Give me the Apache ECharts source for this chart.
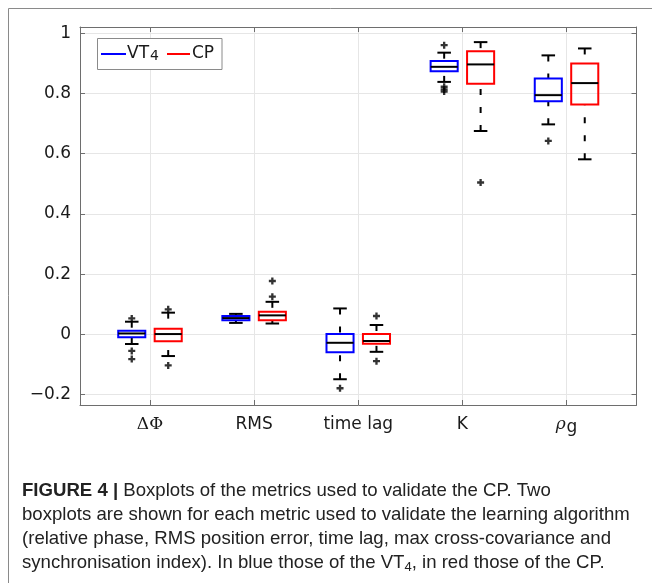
<!DOCTYPE html>
<html><head><meta charset="utf-8">
<script src="https://cdn.jsdelivr.net/npm/echarts@6/dist/echarts.min.js"></script>
<style>html,body{margin:0;padding:0;background:#fff}#c{width:652px;height:583px}</style>
</head><body><div id="c"></div>
<script>
// ---- data ----
const categories = ['ΔΦ', 'RMS', 'time lag', 'K', 'ρg'];
const yTicks = [-0.2, 0, 0.2, 0.4, 0.6, 0.8, 1];
const xTicks = [0, 1, 2, 3, 4];
// each row: [lower whisker, Q1, median, Q3, upper whisker]
const vtBoxes = [
  [-0.032, -0.010, 0.003, 0.012, 0.042],
  [0.038, 0.047, 0.054, 0.061, 0.068],
  [-0.149, -0.059, -0.028, 0.001, 0.086],
  [0.838, 0.873, 0.888, 0.907, 0.935],
  [0.697, 0.774, 0.794, 0.849, 0.926]
];
const cpBoxes = [
  [-0.072, -0.023, 0.001, 0.019, 0.072],
  [0.036, 0.047, 0.063, 0.075, 0.108],
  [-0.058, -0.031, -0.022, 0.001, 0.031],
  [0.675, 0.832, 0.896, 0.940, 0.970],
  [0.581, 0.763, 0.834, 0.899, 0.949]
];
// outliers: [category index, value]
const vtOutliers = [[0, 0.053], [0, -0.055], [0, -0.082], [2, -0.179], [3, 0.960], [3, 0.822], [3, 0.813], [3, 0.806], [4, 0.642]];
const cpOutliers = [[0, 0.083], [0, -0.103], [1, 0.125], [1, 0.177], [2, 0.061], [2, -0.089], [3, 0.504]];
const seriesNames = ['VT4', 'CP'];
const captionLines = [
  '{b|FIGURE 4 |} Boxplots of the metrics used to validate the CP. Two',
  'boxplots are shown for each metric used to validate the learning algorithm',
  '(relative phase, RMS position error, time lag, max cross-covariance and',
  'synchronisation index). In blue those of the VT{s|4}, in red those of the CP.'
];

// ---- style ----
const BLUE = '#0000ff', RED = '#ff0000';
const OFFSET = 0.175, BOXW = 0.26;
const axisColor = '#6e6e6e';
const gridColor = '#e6e6e6';
const tickFont = 'DejaVu Sans';

function boxRender(color, offset) {
  return function (params, api) {
    const x = api.value(0) + offset;
    const lo = api.coord([x, api.value(1)]);
    const q1 = api.coord([x, api.value(2)]);
    const md = api.coord([x, api.value(3)]);
    const q3 = api.coord([x, api.value(4)]);
    const hi = api.coord([x, api.value(5)]);
    const w = api.size([BOXW, 0])[0];
    const cx = lo[0];
    const dash = { stroke: '#000', lineWidth: 2, lineDash: [6, 12] };
    const solid = { stroke: '#000', lineWidth: 2 };
    return {
      type: 'group',
      children: [
        { type: 'line', shape: { x1: cx, y1: hi[1], x2: cx, y2: q3[1] }, style: dash },
        { type: 'line', shape: { x1: cx, y1: lo[1], x2: cx, y2: q1[1] }, style: dash },
        { type: 'line', shape: { x1: cx - w / 4, y1: hi[1], x2: cx + w / 4, y2: hi[1] }, style: solid },
        { type: 'line', shape: { x1: cx - w / 4, y1: lo[1], x2: cx + w / 4, y2: lo[1] }, style: solid },
        { type: 'rect', shape: { x: cx - w / 2, y: q3[1], width: w, height: q1[1] - q3[1] }, style: { fill: 'none', stroke: color, lineWidth: 2 } },
        { type: 'line', shape: { x1: cx - w / 2, y1: md[1], x2: cx + w / 2, y2: md[1] }, style: solid }
      ]
    };
  };
}

const plusPath = 'path://M2,0H4V2H6V4H4V6H2V4H0V2H2Z';

const chart = echarts.init(document.getElementById('c'), null, { renderer: 'canvas' });

const xMin = -0.672, xMax = 4.672, yMin = -0.2345, yMax = 1.0202;

const option = {
  backgroundColor: '#fff',
  animation: false,
  grid: { left: 80, top: 27, right: 15.5, bottom: 178, containLabel: false },
  xAxis: [
    {
      type: 'value', min: xMin, max: xMax, position: 'bottom',
      axisLine: { show: true, onZero: false, lineStyle: { color: axisColor, width: 1 } },
      axisTick: { show: true, inside: true, length: 5, customValues: xTicks, lineStyle: { color: axisColor } },
      axisLabel: {
        customValues: xTicks, margin: 11, color: '#1a1a1a', fontFamily: tickFont, fontSize: 17,
        formatter: function (v) {
          const i = Math.round(v);
          if (i === 0) return '{serif|ΔΦ}';
          if (i === 4) return '{rho|ρ}{sub|g}';
          return categories[i];
        },
        rich: {
          serif: { fontFamily: 'DejaVu Serif', fontSize: 17, color: '#1a1a1a', verticalAlign: 'top', lineHeight: 20 },
          rho: { fontFamily: 'DejaVu Serif', fontStyle: 'italic', fontSize: 17, color: '#1a1a1a', verticalAlign: 'top', lineHeight: 20 },
          sub: { fontFamily: tickFont, fontSize: 17, color: '#1a1a1a', verticalAlign: 'bottom', lineHeight: 20, padding: [9, 0, 0, 1] }
        }
      },
      splitLine: { show: true, lineStyle: { color: gridColor, width: 1 } }
    },
    {
      type: 'value', min: xMin, max: xMax, position: 'top',
      axisLine: { show: true, onZero: false, lineStyle: { color: axisColor, width: 1 } },
      axisTick: { show: true, inside: true, length: 5, customValues: xTicks, lineStyle: { color: axisColor } },
      axisLabel: { show: false },
      splitLine: { show: false }
    }
  ],
  yAxis: [
    {
      type: 'value', min: yMin, max: yMax, position: 'left',
      axisLine: { show: true, onZero: false, lineStyle: { color: axisColor, width: 1 } },
      axisTick: { show: true, inside: true, length: 5, customValues: yTicks, lineStyle: { color: axisColor } },
      axisLabel: {
        customValues: yTicks, margin: 9, color: '#1a1a1a', fontFamily: tickFont, fontSize: 17,
        formatter: function (v) {
          const r = Math.round(v * 10) / 10;
          let s = (r === 0 || r === 1) ? String(r) : r.toFixed(1);
          return s.replace('-', '\u2212');
        }
      },
      splitLine: { show: true, lineStyle: { color: gridColor, width: 1 } }
    },
    {
      type: 'value', min: yMin, max: yMax, position: 'right',
      axisLine: { show: true, onZero: false, lineStyle: { color: axisColor, width: 1 } },
      axisTick: { show: true, inside: true, length: 5, customValues: yTicks, lineStyle: { color: axisColor } },
      axisLabel: { show: false },
      splitLine: { show: false }
    }
  ],
  series: [
    {
      name: seriesNames[0], type: 'custom', xAxisIndex: 0, yAxisIndex: 0, z: 3,
      renderItem: boxRender(BLUE, -OFFSET),
      encode: { x: 0, y: [1, 2, 3, 4, 5] },
      data: vtBoxes.map((b, i) => [i].concat(b))
    },
    {
      name: seriesNames[1], type: 'custom', xAxisIndex: 0, yAxisIndex: 0, z: 3,
      renderItem: boxRender(RED, OFFSET),
      encode: { x: 0, y: [1, 2, 3, 4, 5] },
      data: cpBoxes.map((b, i) => [i].concat(b))
    },
    {
      type: 'scatter', xAxisIndex: 0, yAxisIndex: 0, z: 4, symbol: plusPath, symbolSize: 7,
      itemStyle: { color: '#000' }, silent: true,
      data: vtOutliers.map(o => [o[0] - OFFSET, o[1]])
    },
    {
      type: 'scatter', xAxisIndex: 0, yAxisIndex: 0, z: 4, symbol: plusPath, symbolSize: 7,
      itemStyle: { color: '#000' }, silent: true,
      data: cpOutliers.map(o => [o[0] + OFFSET, o[1]])
    }
  ],
  graphic: []
};

// legend + frame + caption
const legendFont = { fontFamily: tickFont, fontSize: 17, fill: '#1a1a1a' };
const g = [
  { type: 'polyline', shape: { points: [[8.5, 583], [8.5, 8.5], [652, 8.5]] }, style: { stroke: '#8a8a8a', lineWidth: 1, fill: 'none' }, z: 0 },
  { type: 'rect', shape: { x: 97.5, y: 38.5, width: 124.5, height: 31 }, style: { fill: '#fff', stroke: '#8a8a8a', lineWidth: 1 }, z: 10 },
  { type: 'line', shape: { x1: 101, y1: 54, x2: 126, y2: 54 }, style: { stroke: BLUE, lineWidth: 2 }, z: 11 },
  { type: 'text', x: 127, y: 54, style: Object.assign({ text: '{m|VT}{s|4}', verticalAlign: 'middle', rich: { m: { fontFamily: tickFont, fontSize: 17, verticalAlign: 'top', lineHeight: 18 }, s: { fontFamily: tickFont, fontSize: 14, verticalAlign: 'bottom', lineHeight: 16, padding: [10, 0, 0, 1] } } }, legendFont), z: 11 },
  { type: 'line', shape: { x1: 167, y1: 54, x2: 190, y2: 54 }, style: { stroke: RED, lineWidth: 2 }, z: 11 },
  { type: 'text', x: 192, y: 54, style: Object.assign({ text: 'CP', verticalAlign: 'middle' }, legendFont), z: 11 }
];
const capFont = 'Liberation Sans';
// fit caption width to the page's text column
const cv = document.createElement('canvas').getContext('2d');
cv.font = '100px "' + capFont + '"';
const wRef = cv.measureText(captionLines[1]).width;
const capSize = Math.round(100 * 609 / wRef * 10) / 10;
captionLines.forEach((t, k) => {
  g.push({
    type: 'text', x: 22, y: 491 + k * 24,
    style: {
      text: t, fontFamily: capFont, fontSize: capSize, fill: '#222', verticalAlign: 'middle',
      rich: {
        b: { fontFamily: capFont, fontSize: capSize, fontWeight: 'bold', fill: '#222' },
        s: { fontFamily: capFont, fontSize: capSize * 0.7, fill: '#222', padding: [8, 0, 0, 0] }
      }
    }
  });
});
option.graphic = g;
chart.setOption(option);
</script>
</body></html>
